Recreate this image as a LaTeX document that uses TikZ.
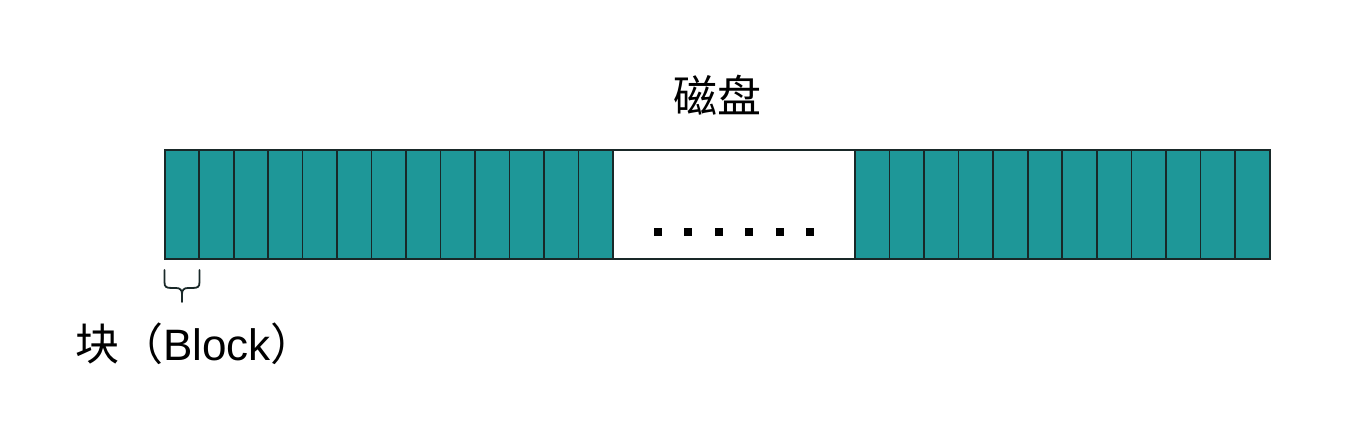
\documentclass[tikz,border=0pt]{standalone}
\usepackage{fontspec}
\setmainfont{Liberation Sans}
\newfontfamily\cjk{Noto Sans CJK SC}
\definecolor{cellteal}{RGB}{30,151,152}
\definecolor{edge}{RGB}{25,40,40}
\tikzset{
  cellbox/.style={draw=edge, line width=1.6pt, fill=cellteal, minimum width=34.5pt, minimum height=109pt, inner sep=0pt, anchor=south west},
  gapbox/.style={draw=edge, line width=1.6pt, fill=white, minimum width=242pt, minimum height=109pt, inner sep=0pt, anchor=south west},
  dotsq/.style={fill=black, minimum size=8pt, inner sep=0pt},
  lbl/.style={font=\fontsize{44}{48}\selectfont, inner sep=0pt}
}
\begin{document}
\begin{tikzpicture}[x=1pt,y=1pt]
\useasboundingbox (0,0) rectangle (1360,436);
\fill[white] (0,0) rectangle (1360,436);
% left blocks
\foreach \i in {0,...,12} {
  \node[cellbox] (L\i) at ({164+\i*34.46},176) {};
}
% gap
\node[gapbox] (gap) at (612,176) {};
% right blocks
\foreach \i in {0,...,11} {
  \node[cellbox, minimum width=34.58pt] (R\i) at ({854+\i*34.58},176) {};
}
% dots
\foreach \i in {0,...,5} {
  \node[dotsq] (d\i) at ({658+\i*30.4},204) {};
}
% title
\node[lbl] (title) at (717,341) {\cjk 磁盘};
% brace
\draw[line width=1.8pt, line cap=round, edge]
  (164.5,166) -- (164.5,154) .. controls (164.5,149) and (166,148) .. (172,148)
  -- (176,148) .. controls (180,148) and (182,146) .. (182,142) -- (182,134);
\draw[line width=1.8pt, line cap=round, edge]
  (199.5,166) -- (199.5,154) .. controls (199.5,149) and (198,148) .. (192,148)
  -- (188,148) .. controls (184,148) and (182,146) .. (182,142);
% label
\node[lbl] (blocklbl) at (195,92) {{\cjk 块（}Block{\cjk ）}};
\end{tikzpicture}
\end{document}
